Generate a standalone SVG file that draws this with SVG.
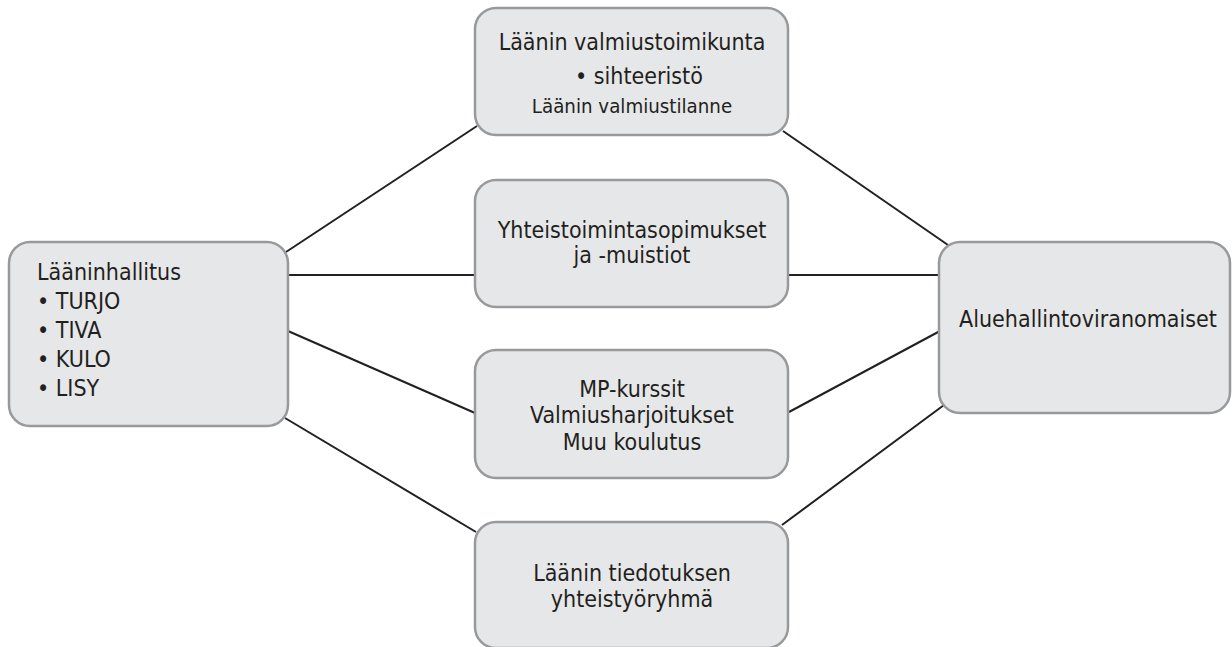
<svg xmlns="http://www.w3.org/2000/svg" width="1232" height="647" viewBox="0 0 1232 647">
<style>
.box{fill:#e6e7e8;stroke:#98999b;stroke-width:2.5}
.t{font-family:"DejaVu Sans Condensed","DejaVu Sans",Tahoma,sans-serif;font-stretch:condensed;font-size:23px;fill:#231f20}
.s{font-size:20.3px}
.c{text-anchor:middle}
.ln{stroke:#231f20;stroke-width:2;fill:none}
</style>
<rect width="1232" height="647" fill="#ffffff"/>
<g id="connectors">
<line class="ln" x1="286" y1="252" x2="477" y2="126"/>
<line class="ln" x1="288" y1="275" x2="475" y2="275"/>
<line class="ln" x1="288" y1="331" x2="475" y2="413"/>
<line class="ln" x1="285" y1="418" x2="476" y2="532"/>
<line class="ln" x1="783" y1="131" x2="948" y2="245"/>
<line class="ln" x1="788" y1="275" x2="940" y2="275"/>
<line class="ln" x1="789" y1="412" x2="940" y2="331"/>
<line class="ln" x1="782" y1="525" x2="944" y2="405"/>
</g>
<g id="laaninhallitus">
<rect class="box" x="9" y="242" width="279" height="184" rx="21"/>
<text class="t" x="37" y="280">Lääninhallitus</text>
<text class="t" x="37" y="309">• TURJO</text>
<text class="t" x="37" y="338">• TIVA</text>
<text class="t" x="37" y="367">• KULO</text>
<text class="t" x="37" y="396">• LISY</text>
</g>
<g id="valmiustoimikunta">
<rect class="box" x="475" y="8" width="313" height="127" rx="21"/>
<text class="t c" x="632" y="50">Läänin valmiustoimikunta</text>
<text class="t" x="575" y="84">• sihteeristö</text>
<text class="t s c" x="632" y="113">Läänin valmiustilanne</text>
</g>
<g id="yhteistoimintasopimukset">
<rect class="box" x="475" y="180" width="313" height="127" rx="21"/>
<text class="t c" x="632" y="238">Yhteistoimintasopimukset</text>
<text class="t c" x="632" y="263">ja -muistiot</text>
</g>
<g id="koulutus">
<rect class="box" x="475" y="350" width="313" height="128" rx="21"/>
<text class="t c" x="632" y="397">MP-kurssit</text>
<text class="t c" x="632" y="423">Valmiusharjoitukset</text>
<text class="t c" x="632" y="450">Muu koulutus</text>
</g>
<g id="tiedotus">
<rect class="box" x="475" y="522" width="313" height="126" rx="21"/>
<text class="t c" x="632" y="581">Läänin tiedotuksen</text>
<text class="t c" x="632" y="607">yhteistyöryhmä</text>
</g>
<g id="aluehallintoviranomaiset">
<rect class="box" x="939" y="242" width="291" height="171" rx="21"/>
<text class="t c" x="1088" y="327">Aluehallintoviranomaiset</text>
</g>
</svg>
